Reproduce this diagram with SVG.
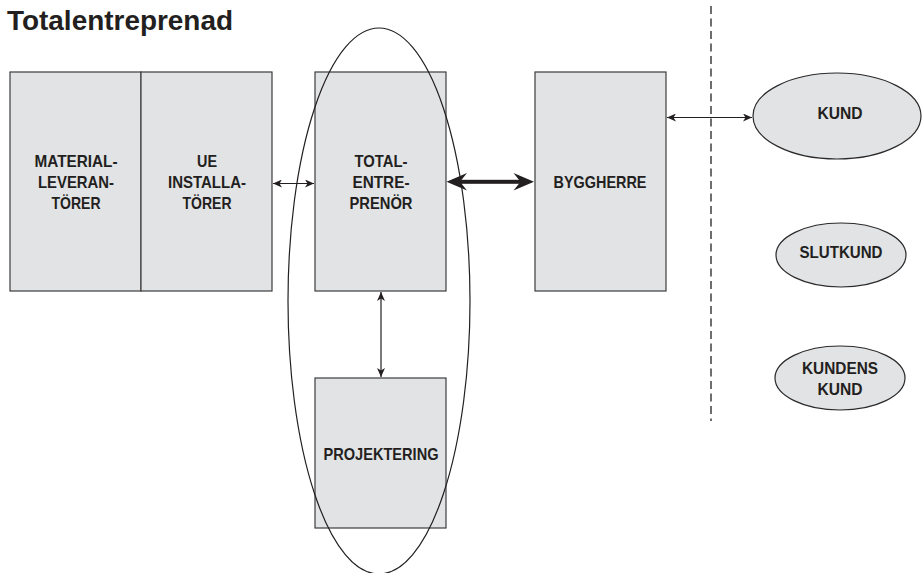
<svg xmlns="http://www.w3.org/2000/svg" width="922" height="573" viewBox="0 0 922 573">
  <style>
    .box { fill: #e2e3e5; stroke: #3d3d3d; stroke-width: 1.2; }
    .oval { fill: #e2e3e5; stroke: #2a2a2a; stroke-width: 1.2; }
    .lbl { font-family: "Liberation Sans", Arial, sans-serif; font-weight: bold; font-size: 16.5px; fill: #231f20; text-anchor: middle; }
    .title { font-family: "Liberation Sans", Arial, sans-serif; font-weight: bold; font-size: 28px; fill: #231f20; }
    .thin { stroke: #231f20; stroke-width: 1.2; fill: none; marker-start: url(#tip); marker-end: url(#tip); }
  </style>
  <defs>
    <marker id="tip" viewBox="0 0 9 8" refX="9" refY="4" markerWidth="9" markerHeight="8" markerUnits="userSpaceOnUse" orient="auto-start-reverse">
      <path d="M0,0 L9,4 L0,8 L2.5,4 Z" fill="#231f20"/>
    </marker>
  </defs>

  <rect width="922" height="573" fill="#ffffff"/>

  <text class="title" x="7" y="30" textLength="226" lengthAdjust="spacingAndGlyphs">Totalentreprenad</text>

  <!-- boundary between project and customers -->
  <line x1="711" y1="6" x2="711" y2="421" stroke="#231f20" stroke-width="1.3" stroke-dasharray="8,4.5"/>

  <g id="material">
    <rect class="box" x="10" y="72" width="131" height="219"/>
    <text class="lbl" x="76" y="167" textLength="83" lengthAdjust="spacingAndGlyphs">MATERIAL-</text>
    <text class="lbl" x="76" y="188" textLength="76" lengthAdjust="spacingAndGlyphs">LEVERAN-</text>
    <text class="lbl" x="76" y="209" textLength="49" lengthAdjust="spacingAndGlyphs">TÖRER</text>
  </g>

  <g id="ue">
    <rect class="box" x="141" y="72" width="131" height="219"/>
    <text class="lbl" x="207" y="167" textLength="20" lengthAdjust="spacingAndGlyphs">UE</text>
    <text class="lbl" x="207" y="188" textLength="78" lengthAdjust="spacingAndGlyphs">INSTALLA-</text>
    <text class="lbl" x="207" y="209" textLength="49" lengthAdjust="spacingAndGlyphs">TÖRER</text>
  </g>

  <g id="totalentreprenor">
    <rect class="box" x="315" y="72" width="131" height="219"/>
    <text class="lbl" x="381" y="167" textLength="53" lengthAdjust="spacingAndGlyphs">TOTAL-</text>
    <text class="lbl" x="381" y="188" textLength="57" lengthAdjust="spacingAndGlyphs">ENTRE-</text>
    <text class="lbl" x="381" y="209" textLength="63" lengthAdjust="spacingAndGlyphs">PRENÖR</text>
  </g>

  <g id="byggherre">
    <rect class="box" x="535" y="72" width="131" height="219"/>
    <text class="lbl" x="600" y="188" textLength="93" lengthAdjust="spacingAndGlyphs">BYGGHERRE</text>
  </g>

  <g id="projektering">
    <rect class="box" x="315" y="378" width="131" height="150"/>
    <text class="lbl" x="381" y="460" textLength="115" lengthAdjust="spacingAndGlyphs">PROJEKTERING</text>
  </g>

  <g id="kund">
    <ellipse class="oval" cx="837" cy="116" rx="84" ry="43"/>
    <text class="lbl" x="840" y="119" textLength="45" lengthAdjust="spacingAndGlyphs">KUND</text>
  </g>

  <g id="slutkund">
    <ellipse class="oval" cx="841" cy="255" rx="65" ry="32"/>
    <text class="lbl" x="841" y="258" textLength="83" lengthAdjust="spacingAndGlyphs">SLUTKUND</text>
  </g>

  <g id="kundens-kund">
    <ellipse class="oval" cx="840" cy="378" rx="65" ry="32"/>
    <text class="lbl" x="840" y="374" textLength="76" lengthAdjust="spacingAndGlyphs">KUNDENS</text>
    <text class="lbl" x="840" y="395" textLength="45" lengthAdjust="spacingAndGlyphs">KUND</text>
  </g>

  <!-- scope of the main contractor's responsibility -->
  <g id="ansvar">
    <ellipse cx="379" cy="301" rx="91" ry="273" fill="none" stroke="#231f20" stroke-width="1.2"/>
  </g>

  <g id="connectors">
    <line class="thin" x1="273" y1="183.5" x2="314" y2="183.5"/>
    <line class="thin" x1="381" y1="292" x2="381" y2="377"/>
    <line class="thin" x1="667" y1="117.5" x2="752" y2="117.5"/>
    <!-- heavy two-way link between contractor and client -->
    <g fill="#231f20">
      <rect x="458" y="179.8" width="64" height="4"/>
      <path d="M446.5,181.8 L467,173 L460,181.8 L467,190.6 Z"/>
      <path d="M534,181.8 L513.5,173 L520.5,181.8 L513.5,190.6 Z"/>
    </g>
  </g>
</svg>
